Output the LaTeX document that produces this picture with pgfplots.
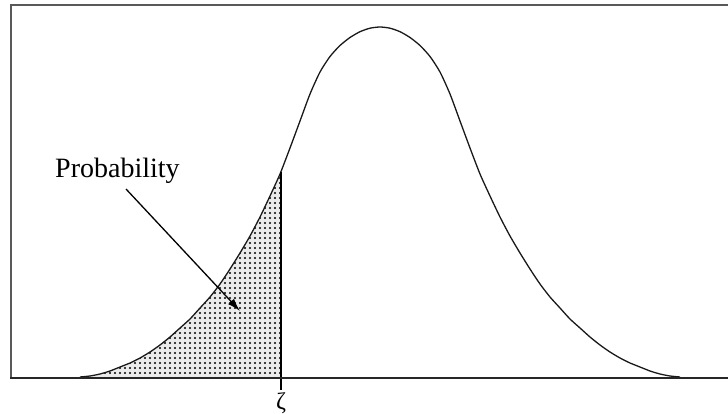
\documentclass[border=0pt]{standalone}
\usepackage{pgfplots}
\pgfplotsset{compat=1.18}
\usepackage{fontspec}
\setmainfont{Liberation Serif}
\usetikzlibrary{patterns.meta,arrows.meta}
\begin{document}
\begin{tikzpicture}
\useasboundingbox (0,0) rectangle (728pt,413pt);
\begin{axis}[
  at={(11pt,35pt)}, anchor=south west,
  scale only axis, width=717pt, height=373pt,
  xmin=11, xmax=728, ymin=0, ymax=373,
  hide axis, clip=false,
]
% shaded probability area
\addplot[draw=none, fill=black!8, postaction={pattern={Dots[distance=5pt,radius=1.1pt]}, pattern color=black}]
 coordinates {(80,0)(80,1)(90,2)(100,4)(110,7)(120,11)(130,15)(140,20)(150,26)(160,33)(170,41)(180,50)(190,59)(200,70)(210,81)(220,94)(230,109)(240,125)(250,142)(260,161)(270,182)(280,204)(281,206)(281,0)} \closedcycle;
% density curve
\addplot[black!90, line width=1.3pt, smooth, tension=0.4]
 coordinates {(80,1)(90,2)(100,4)(110,7)(120,11)(130,15)(140,20)(150,26)(160,33)(170,41)(180,50)(190,59)(200,70)(210,81)(220,94)(230,109)(240,125)(250,142)(260,161)(270,182)(280,204)(290,230)(300,257)(310,284)(320,306)(330,321.5)(340,332.5)(350,340.5)(360,346.3)(370,349.8)(380,351)(390,349.8)(400,346.3)(410,340.5)(420,332.5)(430,321.5)(440,306)(450,284)(460,257)(470,230)(480,204)(490,182)(500,161)(510,142)(520,125)(530,109)(540,94)(550,81)(560,70)(570,59)(580,50)(590,41)(600,33)(610,26)(620,20)(630,15)(640,11)(650,7)(660,4)(670,2)(680,1)};
% vertical line at zeta
\draw[black, line width=1.4pt] (axis cs:281,206) -- (axis cs:281,-12);
% frame
\draw[black!65, line width=2pt] (axis cs:11,0) -- (axis cs:11,373) -- (axis cs:728,373);
\draw[black!85, line width=2pt] (axis cs:10,0) -- (axis cs:728,0);
% label and arrow
\node[anchor=base west, inner sep=0pt, font=\fontsize{28}{30}\selectfont] at (axis cs:55,201) {Probability};
\draw[black, line width=1.3pt, -{Latex[length=13pt,width=8pt]}] (axis cs:126,189) -- (axis cs:240,67);
\node[anchor=north, inner sep=0pt, font=\fontsize{24}{26}\selectfont] at (axis cs:281,-14) {ζ};
\end{axis}
\end{tikzpicture}
\end{document}
